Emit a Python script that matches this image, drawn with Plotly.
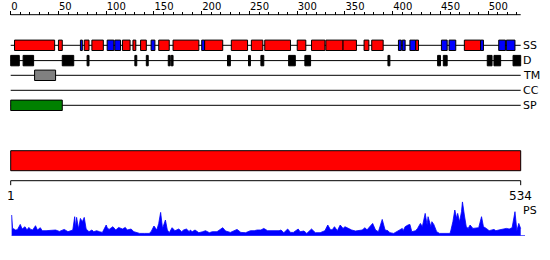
import plotly.graph_objects as go

# ---------------- data ----------------
seq_len = 534
seq_start = 1

top_tick_major = [0, 50, 100, 150, 200, 250, 300, 350, 400, 450, 500]
top_tick_text = ["0", "50", "100", "150", "200", "250", "300", "350", "400", "450", "500"]
top_tick_minor = [10, 20, 30, 40, 60, 70, 80, 90, 110, 120, 130, 140, 160, 170, 180, 190,
                  210, 220, 230, 240, 260, 270, 280, 290, 310, 320, 330, 340, 360, 370,
                  380, 390, 410, 420, 430, 440, 460, 470, 480, 490, 510, 520, 530]

track_names = ["SS", "D", "TM", "CC", "SP"]

helix_start = [5, 51, 78, 86, 118, 129, 137, 156, 171, 204, 232, 253, 267, 301, 316, 331, 349, 371, 379, 425, 476]
helix_end = [46, 54, 82, 97, 125, 131, 142, 166, 197, 222, 248, 264, 293, 309, 329, 348, 362, 375, 390, 427, 492]

strand_start = [74, 102, 110, 148, 201, 407, 411, 419, 452, 460, 493, 512, 520]
strand_end = [75, 108, 115, 151, 203, 409, 413, 424, 457, 466, 495, 518, 528]

disorder_start = [1, 14, 55, 81, 131, 143, 166, 169, 228, 250, 263, 292, 309, 396, 448, 454, 500, 507, 527]
disorder_end = [9, 24, 66, 82, 132, 144, 167, 170, 230, 251, 265, 298, 314, 397, 450, 457, 504, 513, 534]

tm_start = [26]
tm_end = [47]

cc_start = []
cc_end = []

sp_start = [1]
sp_end = [54]

domain_start = [1]
domain_end = [534]

ps_pos = [1, 2, 3, 5, 7, 10, 12, 15, 17, 19, 21, 23, 26, 28, 31, 33, 37, 40, 44, 47, 51, 56, 60, 63, 65,
          67, 68, 69, 71, 73, 75, 77, 79, 82, 85, 87, 90, 93, 96, 100, 101, 103, 107, 110, 113, 117,
          120, 122, 126, 129, 133, 135,
          140, 145, 147, 150, 153, 155, 157, 159, 162, 164, 166, 169, 172, 176, 179, 181, 184, 187,
          188, 190, 193, 197, 201, 204, 208, 211, 216, 222, 225, 230, 237, 241, 246, 251, 255, 258,
          262, 265, 269, 271,
          277, 281, 283, 286, 290, 293, 296, 301, 303, 307, 310, 315, 319, 324, 329, 332, 335, 337,
          339, 342, 345, 348, 350, 354, 357, 361, 364, 368, 371, 373, 375, 379, 382, 385, 389, 392,
          395, 397, 401, 404, 407,
          410, 411, 413, 416, 418, 420, 424, 426, 429, 431, 434, 436, 437, 440, 441, 443, 446, 449,
          454, 460, 461, 463, 465, 467, 468, 470, 472, 473, 475, 477, 479, 481, 484, 487, 490, 493,
          495, 498, 501, 506, 508, 511, 515, 519, 522, 525, 528, 530, 532, 534]
ps_val = [20.7, 7, 7, 5.7, 6, 11.3, 6.7, 9, 5.7, 8.3, 6.3, 5.7, 10, 5.7, 8, 5, 5, 5.3, 5, 5.7, 4.3, 6.3, 4, 5, 5.7,
          19, 8, 18.3, 7, 17.3, 14, 18.3, 6.7, 4, 5.7, 4, 5, 4, 3.3, 10.7, 8, 6.3, 9, 5.7, 8.3, 6.7,
          8.3, 5.7, 6.7, 4, 3.3, 2.3,
          2.3, 2.3, 4, 9.7, 5.7, 12.3, 23.3, 7.3, 15.7, 5.7, 3, 8, 5, 6.7, 4, 5.7, 6.7, 4,
          5.7, 4, 5.7, 3, 4, 5, 3, 4, 4, 8, 4.7, 3.3, 6.3, 3.3, 3, 5, 5, 5.7,
          5.7, 7.3, 5, 5,
          4.7, 5, 5.7, 3, 6.7, 3.3, 3.3, 6.7, 4, 4.7, 2.3, 6.7, 3, 3, 5, 10.7, 5.7, 6.3,
          9, 5, 10.7, 7.3, 9, 6.7, 5.7, 4.7, 5, 5.7, 8, 5.7, 8, 12.3, 5.7, 4, 16.3, 5.7,
          5, 3, 2.3, 4, 5,
          7.3, 5, 9, 10.7, 11.3, 4, 5, 7.3, 12.3, 9, 22.3, 10.7, 19, 9, 14, 11.3, 4, 2.3,
          2.3, 2.3, 5.7, 14, 25.7, 17.3, 22.3, 14, 24, 34, 20.7, 9, 7.3, 10.7, 7.3, 7.3, 8, 19,
          9, 7.3, 5, 6.3, 5, 5.7, 6.3, 7.3, 6.7, 8, 24, 5, 12.3, 7]

# ---------------- layout constants ----------------
W, H = 550, 260
X0_PX, X1_PX = 10.7, 520.7           # pixel position of 0 and seq_len
scale = (X1_PX - X0_PX) / seq_len
xr = [-X0_PX / scale, (W - X0_PX) / scale]

AXIS_Y = 14.7
track_y = {"SS": 45.3, "D": 60.6, "TM": 75.3, "CC": 90.3, "SP": 105.3}
BOX_H = 5.2
DOMAIN_Y = (150.7, 170.7)
SCALE_Y = 180.7
PS_BASE, PS_TOP = 235.7, 201.7

RED, BLUE, GREEN, GRAY, BLACK = "#ff0000", "#0000ff", "#008000", "#808080", "#000000"
FONT = "DejaVu Sans"

shapes = []


def line(x0, x1, y0, y1, color=BLACK, width=1, xref="x", yref="y"):
    shapes.append(dict(type="line", xref=xref, yref=yref, x0=x0, x1=x1, y0=y0, y1=y1,
                       line=dict(color=color, width=width)))


def boxes(starts, ends, yc, fill, border=BLACK, half=BOX_H):
    for s, e in zip(starts, ends):
        shapes.append(dict(type="rect", xref="x", yref="y", x0=s - 1, x1=e,
                           y0=yc - half, y1=yc + half, fillcolor=fill,
                           line=dict(color=border, width=1)))


# top axis line
line(0, seq_len, AXIS_Y, AXIS_Y)

# track base lines
for name in track_names:
    line(0, seq_len, track_y[name], track_y[name])

boxes(helix_start, helix_end, track_y["SS"], RED)
boxes(strand_start, strand_end, track_y["SS"], BLUE)
boxes(disorder_start, disorder_end, track_y["D"], BLACK)
boxes(tm_start, tm_end, track_y["TM"], GRAY)
boxes(cc_start, cc_end, track_y["CC"], "#ffff00")
boxes(sp_start, sp_end, track_y["SP"], GREEN)

# domain bar
for s, e in zip(domain_start, domain_end):
    shapes.append(dict(type="rect", xref="x", yref="y", x0=s - 1, x1=e,
                       y0=DOMAIN_Y[0], y1=DOMAIN_Y[1], fillcolor=RED,
                       line=dict(color=BLACK, width=1)))

# bottom scale
line(seq_start - 1, seq_len, SCALE_Y, SCALE_Y)
line(seq_start - 1, seq_start - 1, SCALE_Y, SCALE_Y + 4.5)
line(seq_len, seq_len, SCALE_Y, SCALE_Y + 4.5)

annotations = []
for name in track_names:
    annotations.append(dict(x=seq_len, y=track_y[name], xref="x", yref="y", text=name,
                            showarrow=False, xanchor="left", yanchor="middle",
                            font=dict(family=FONT, size=11, color=BLACK)))
annotations.append(dict(x=seq_start - 1, y=195.7, xref="x", yref="y", text=str(seq_start),
                        showarrow=False, xanchor="center", yanchor="middle",
                        font=dict(family=FONT, size=12, color=BLACK)))
annotations.append(dict(x=seq_len, y=195.7, xref="x", yref="y", text=str(seq_len),
                        showarrow=False, xanchor="center", yanchor="middle",
                        font=dict(family=FONT, size=12, color=BLACK)))
annotations.append(dict(x=seq_len, y=210.7, xref="x", yref="y", text="PS",
                        showarrow=False, xanchor="left", yanchor="middle",
                        font=dict(family=FONT, size=11, color=BLACK)))

fig = go.Figure()
fig.add_trace(go.Scatter(x=ps_pos, y=ps_val, mode="lines", xaxis="x", yaxis="y2",
                         line=dict(color=BLUE, width=0.8), fill="tozeroy",
                         fillcolor=BLUE, hoverinfo="skip", showlegend=False))

# blue baseline of the profile (slightly longer than the profile)
line(seq_start, seq_len + 4.5, 0, 0, color=BLUE, width=1, yref="y2")

fig.update_layout(
    width=W, height=H,
    margin=dict(l=0, r=0, t=0, b=0, pad=0),
    paper_bgcolor="white", plot_bgcolor="white",
    showlegend=False,
    xaxis=dict(range=xr, domain=[0, 1], anchor="free", position=1 - AXIS_Y / H,
               side="top", showline=False, showgrid=False, zeroline=False,
               tickmode="array", tickvals=top_tick_major, ticktext=top_tick_text,
               ticks="outside", ticklen=4, tickcolor=BLACK, tickwidth=1,
               ticklabelposition="outside right", ticklabelstandoff=1,
               tickfont=dict(family=FONT, size=10, color=BLACK),
               minor=dict(tickmode="array", tickvals=top_tick_minor, ticks="outside",
                          ticklen=3, tickcolor=BLACK, tickwidth=1, showgrid=False),
               fixedrange=True),
    yaxis=dict(range=[H, 0], domain=[0, 1], visible=False, fixedrange=True, anchor="x"),
    yaxis2=dict(range=[0, PS_BASE - PS_TOP], domain=[1 - PS_BASE / H, 1 - PS_TOP / H],
                visible=False, fixedrange=True, anchor="x"),
    shapes=shapes,
    annotations=annotations,
)

fig.write_html("out.html", config={"displayModeBar": False})
